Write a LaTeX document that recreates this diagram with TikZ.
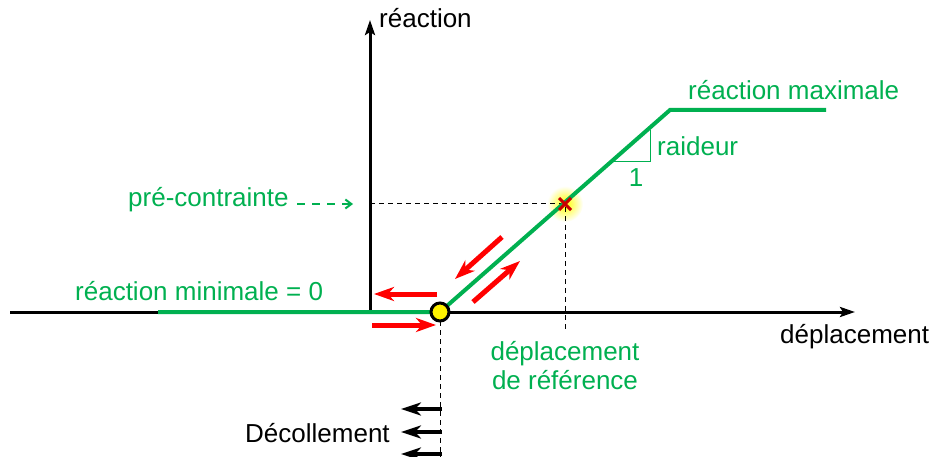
\documentclass[tikz,border=0pt]{standalone}
\usepackage{fontspec}
\setmainfont{Liberation Sans}
\usetikzlibrary{arrows.meta}
\definecolor{vert}{RGB}{0,176,80}
\definecolor{rouge}{RGB}{255,0,0}
\definecolor{croix}{RGB}{200,0,0}
\begin{document}
\begin{tikzpicture}[x=1pt, y=-1pt,
  lbl/.style={font=\fontsize{26}{30}\selectfont, inner sep=0pt},
  axe/.style={line width=3pt, -{Stealth[length=15pt, width=10pt, inset=3pt]}},
  tirets/.style={line width=1pt, dash pattern=on 5pt off 4pt},
  glisse/.style={rouge, line width=5pt, -{Stealth[length=20pt, width=14pt, inset=6pt]}},
  decolle/.style={black, line width=4pt, -{Stealth[length=20pt, width=13pt, inset=6pt]}}]
  \useasboundingbox (0,0) rectangle (932,457);
  % points of the law
  \coordinate (G) at (10,312);
  \coordinate (D) at (855,312);
  \coordinate (O) at (370,312);
  \coordinate (H) at (370,20);
  \coordinate (M0) at (158,312);
  \coordinate (C) at (440,312);
  \coordinate (K) at (670,110);
  \coordinate (M1) at (826,110);
  \coordinate (P) at (565,204);
  \coordinate (P0) at (370,204);
  \coordinate (P1) at (565,330);
  \coordinate (C1) at (440,457);
  % glow behind the cross
  \shade[inner color=yellow, outer color=white] (P) circle (18);
  % dashed guides
  \draw[tirets] (P0) -- (P) -- (P1);
  \draw[tirets] (C) -- (C1);
  % axes
  \draw[axe] (G) -- (D);
  \draw[axe] (O) -- (H);
  % green law
  \draw[vert, line width=4pt, line join=miter] (M0) -- (C) -- (K) -- (M1);
  \draw[vert, line width=1pt] (613,162) -- (650,162) -- (650,130);
  \draw[line width=3pt, fill=yellow] (C) circle (9);
  \draw[croix, line width=3pt] (559,198) -- (571,210) (559,210) -- (571,198);
  % sliding arrows
  \draw[glisse] (437,294) -- (374,294);
  \draw[glisse] (372,325) -- (436,325);
  \draw[glisse] (502,237) -- (455,279);
  \draw[glisse] (473,302) -- (520,261);
  % uplift arrows
  \foreach \yy in {409,432,454}
    \draw[decolle] (442,\yy) -- (401,\yy);
  % labels
  \node[lbl, anchor=base west] (ly) at (379,28) {réaction};
  \node[lbl, anchor=base west] (lx) at (780,343) {déplacement};
  \node[lbl, vert, anchor=base west] (lmax) at (688,100) {réaction maximale};
  \node[lbl, vert, anchor=base west] (lraid) at (657,156) {raideur};
  \node[lbl, vert, anchor=base] (lun) at (636,187) {1};
  \node[lbl, vert, anchor=base west] (lpre) at (128,207) {pré-contrainte};
  \node[lbl, vert, anchor=base west] (lmin) at (75,301) {réaction minimale = 0};
  \node[lbl, vert, anchor=base] (lref1) at (565,360) {déplacement};
  \node[lbl, vert, anchor=base] (lref2) at (565,389) {de référence};
  \node[lbl, anchor=base west] (ldec) at (245,442) {Décollement};
  \coordinate (a) at (297,204);
  \draw[vert, line width=2pt, dash pattern=on 8pt off 7pt, -{Straight Barb[length=6pt, width=9pt]}]
    (a) -- (P0 -| 353,0);
\end{tikzpicture}
\end{document}
